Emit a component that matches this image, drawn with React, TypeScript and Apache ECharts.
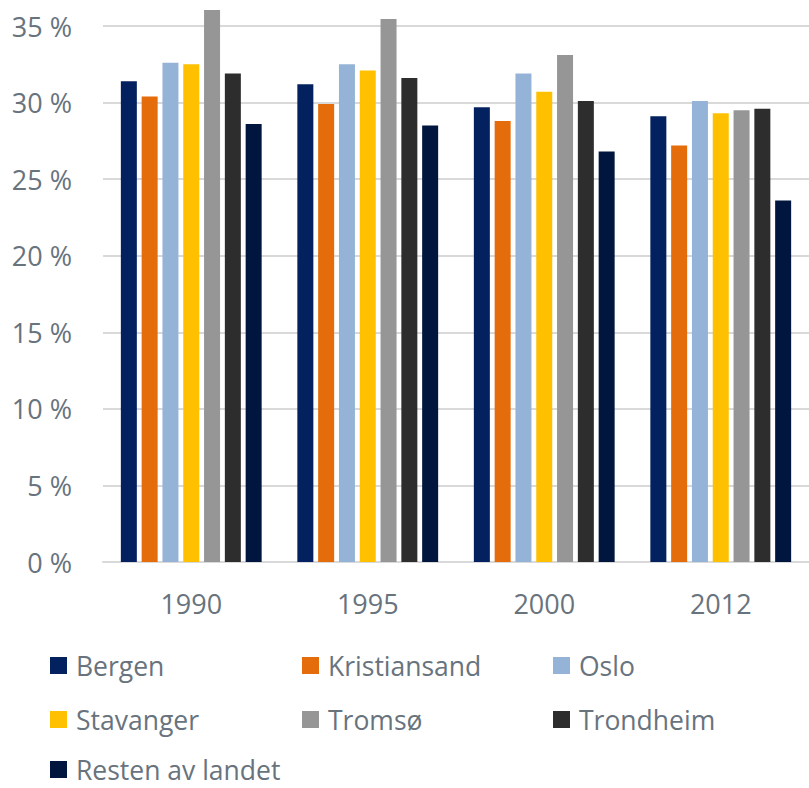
import React, { useEffect, useRef } from "react";
import * as echarts from "echarts";

const years = ["1990", "1995", "2000", "2012"];
const yTicks = [0, 5, 10, 15, 20, 25, 30, 35];

const bergen = [31.4, 31.2, 29.7, 29.1];
const kristiansand = [30.4, 29.9, 28.8, 27.2];
const oslo = [32.6, 32.5, 31.9, 30.1];
const stavanger = [32.5, 32.1, 30.7, 29.3];
const tromso = [36.05, 35.45, 33.1, 29.5];
const trondheim = [31.9, 31.6, 30.1, 29.6];
const resten = [28.6, 28.5, 26.8, 23.6];

const seriesDefs = [
  { name: "Bergen", data: bergen, color: "#03205f" },
  { name: "Kristiansand", data: kristiansand, color: "#e46c0a" },
  { name: "Oslo", data: oslo, color: "#95b3d7" },
  { name: "Stavanger", data: stavanger, color: "#ffc000" },
  { name: "Tromsø", data: tromso, color: "#969696" },
  { name: "Trondheim", data: trondheim, color: "#2d2d2d" },
  { name: "Resten av landet", data: resten, color: "#01163e" },
];

const legendColLeft = [50, 302, 553];
const legendRowCenter = [665, 719, 769];

const FONT = "'Open Sans', 'Noto Sans', sans-serif";
const TEXT = "#68737d";

export default function App() {
  const ref = useRef<HTMLDivElement>(null);
  useEffect(() => {
    document.body.style.margin = "0";
    if (!ref.current) return;
    const chart = echarts.init(ref.current, undefined, { renderer: "svg" });
    chart.setOption({
      animation: false,
      backgroundColor: "#ffffff",
      textStyle: { fontFamily: FONT },
      grid: { left: 103, right: -3, top: 26, height: 536, containLabel: false },
      legend: seriesDefs.map((s, i) => ({
        orient: "horizontal",
        left: legendColLeft[i % 3],
        top: legendRowCenter[Math.floor(i / 3)] - 13,
        padding: 0,
        itemWidth: 17,
        itemHeight: 17,
        icon: "rect",
        data: [s.name],
        selectedMode: false,
        textStyle: {
          fontFamily: FONT,
          fontSize: 26.5,
          color: TEXT,
          lineHeight: 26,
          padding: [0, 0, 0, 4],
        },
      })),
      xAxis: {
        type: "category",
        data: years,
        axisLine: { show: true, lineStyle: { color: "#d9d9d9", width: 2 } },
        axisTick: { show: false },
        axisLabel: { fontSize: 27, color: TEXT, fontFamily: FONT, margin: 28 },
      },
      yAxis: {
        type: "value",
        min: yTicks[0],
        max: yTicks[yTicks.length - 1],
        interval: 5,
        axisLine: { show: false },
        axisTick: { show: false },
        splitLine: { lineStyle: { color: "#d9d9d9", width: 2 } },
        axisLabel: {
          fontSize: 27,
          color: TEXT,
          fontFamily: FONT,
          margin: 31,
          formatter: "{value} %",
        },
      },
      series: seriesDefs.map((s) => ({
        name: s.name,
        type: "bar",
        data: s.data,
        barWidth: 16,
        barGap: "30%",
        clip: false,
        itemStyle: { color: s.color },
      })),
    });
    return () => chart.dispose();
  }, []);
  return <div ref={ref} style={{ width: 809, height: 788 }} />;
}
